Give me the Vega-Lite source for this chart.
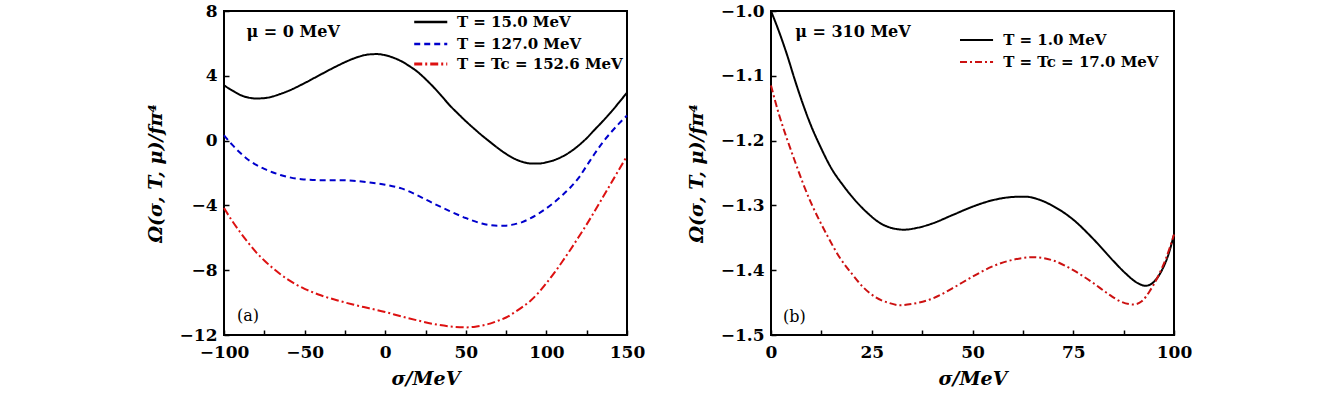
{
  "$schema": "https://vega.github.io/schema/vega-lite/v6.json",
  "background": "white",
  "padding": {"left": 145, "top": 1, "right": 5, "bottom": 5},
  "bounds": "flush",
  "spacing": 144,
  "resolve": {"scale": {"color": "independent", "strokeDash": "independent", "x": "independent", "y": "independent"}},
  "config": {
    "view": {"stroke": "black", "strokeWidth": 2},
    "axis": {
      "domain": false, "grid": false, "tickColor": "black", "tickWidth": 1.5, "tickSize": -5,
      "labelFlush": false, "labelOverlap": false,
      "labelFont": "DejaVu Serif", "labelFontWeight": "bold", "labelFontSize": 17, "labelColor": "black",
      "titleFont": "DejaVu Serif", "titleFontWeight": "bold", "titleFontStyle": "italic", "titleFontSize": 19, "titleColor": "black",
      "zindex": 1
    },
    "axisX": {"labelPadding": 14, "titlePadding": 9},
    "axisY": {"labelPadding": 12, "titlePadding": 14},
    "line": {"interpolate": "monotone"},
    "text": {"font": "DejaVu Serif", "fontWeight": "bold", "fontSize": 15, "color": "black", "align": "left", "baseline": "middle"}
  },
  "datasets": {
    "a": [
      {"s": -100, "v": 3.41, "T": "T = 15.0 MeV"}, {"s": -95, "v": 3.10, "T": "T = 15.0 MeV"}, {"s": -90, "v": 2.82, "T": "T = 15.0 MeV"}, {"s": -85, "v": 2.66, "T": "T = 15.0 MeV"}, {"s": -80, "v": 2.60, "T": "T = 15.0 MeV"}, {"s": -75, "v": 2.62, "T": "T = 15.0 MeV"}, {"s": -70, "v": 2.72, "T": "T = 15.0 MeV"}, {"s": -65, "v": 2.88, "T": "T = 15.0 MeV"}, {"s": -60, "v": 3.07, "T": "T = 15.0 MeV"}, {"s": -50, "v": 3.55, "T": "T = 15.0 MeV"}, {"s": -40, "v": 4.08, "T": "T = 15.0 MeV"}, {"s": -30, "v": 4.60, "T": "T = 15.0 MeV"}, {"s": -20, "v": 5.05, "T": "T = 15.0 MeV"}, {"s": -15, "v": 5.22, "T": "T = 15.0 MeV"}, {"s": -10, "v": 5.32, "T": "T = 15.0 MeV"}, {"s": -5, "v": 5.34, "T": "T = 15.0 MeV"}, {"s": 0, "v": 5.27, "T": "T = 15.0 MeV"}, {"s": 5, "v": 5.12, "T": "T = 15.0 MeV"}, {"s": 10, "v": 4.90, "T": "T = 15.0 MeV"}, {"s": 15, "v": 4.60, "T": "T = 15.0 MeV"}, {"s": 20, "v": 4.25, "T": "T = 15.0 MeV"}, {"s": 25, "v": 3.80, "T": "T = 15.0 MeV"}, {"s": 30, "v": 3.30, "T": "T = 15.0 MeV"}, {"s": 35, "v": 2.75, "T": "T = 15.0 MeV"}, {"s": 40, "v": 2.18, "T": "T = 15.0 MeV"}, {"s": 45, "v": 1.68, "T": "T = 15.0 MeV"}, {"s": 50, "v": 1.20, "T": "T = 15.0 MeV"}, {"s": 55, "v": 0.75, "T": "T = 15.0 MeV"}, {"s": 60, "v": 0.32, "T": "T = 15.0 MeV"}, {"s": 65, "v": -0.08, "T": "T = 15.0 MeV"}, {"s": 70, "v": -0.47, "T": "T = 15.0 MeV"}, {"s": 75, "v": -0.82, "T": "T = 15.0 MeV"}, {"s": 80, "v": -1.11, "T": "T = 15.0 MeV"}, {"s": 85, "v": -1.31, "T": "T = 15.0 MeV"}, {"s": 90, "v": -1.41, "T": "T = 15.0 MeV"}, {"s": 95, "v": -1.42, "T": "T = 15.0 MeV"}, {"s": 100, "v": -1.34, "T": "T = 15.0 MeV"}, {"s": 105, "v": -1.20, "T": "T = 15.0 MeV"}, {"s": 110, "v": -0.98, "T": "T = 15.0 MeV"}, {"s": 115, "v": -0.68, "T": "T = 15.0 MeV"}, {"s": 120, "v": -0.30, "T": "T = 15.0 MeV"}, {"s": 125, "v": 0.15, "T": "T = 15.0 MeV"}, {"s": 130, "v": 0.68, "T": "T = 15.0 MeV"}, {"s": 135, "v": 1.20, "T": "T = 15.0 MeV"}, {"s": 140, "v": 1.75, "T": "T = 15.0 MeV"}, {"s": 145, "v": 2.35, "T": "T = 15.0 MeV"}, {"s": 150, "v": 2.96, "T": "T = 15.0 MeV"},
      {"s": -100, "v": 0.33, "T": "T = 127.0 MeV"}, {"s": -95, "v": -0.25, "T": "T = 127.0 MeV"}, {"s": -90, "v": -0.75, "T": "T = 127.0 MeV"}, {"s": -85, "v": -1.18, "T": "T = 127.0 MeV"}, {"s": -80, "v": -1.50, "T": "T = 127.0 MeV"}, {"s": -75, "v": -1.75, "T": "T = 127.0 MeV"}, {"s": -70, "v": -1.95, "T": "T = 127.0 MeV"}, {"s": -65, "v": -2.12, "T": "T = 127.0 MeV"}, {"s": -60, "v": -2.25, "T": "T = 127.0 MeV"}, {"s": -55, "v": -2.35, "T": "T = 127.0 MeV"}, {"s": -50, "v": -2.40, "T": "T = 127.0 MeV"}, {"s": -40, "v": -2.44, "T": "T = 127.0 MeV"}, {"s": -30, "v": -2.44, "T": "T = 127.0 MeV"}, {"s": -20, "v": -2.48, "T": "T = 127.0 MeV"}, {"s": -10, "v": -2.58, "T": "T = 127.0 MeV"}, {"s": 0, "v": -2.72, "T": "T = 127.0 MeV"}, {"s": 10, "v": -2.95, "T": "T = 127.0 MeV"}, {"s": 20, "v": -3.38, "T": "T = 127.0 MeV"}, {"s": 30, "v": -3.88, "T": "T = 127.0 MeV"}, {"s": 40, "v": -4.35, "T": "T = 127.0 MeV"}, {"s": 50, "v": -4.78, "T": "T = 127.0 MeV"}, {"s": 60, "v": -5.12, "T": "T = 127.0 MeV"}, {"s": 65, "v": -5.22, "T": "T = 127.0 MeV"}, {"s": 70, "v": -5.26, "T": "T = 127.0 MeV"}, {"s": 75, "v": -5.25, "T": "T = 127.0 MeV"}, {"s": 80, "v": -5.17, "T": "T = 127.0 MeV"}, {"s": 85, "v": -5.03, "T": "T = 127.0 MeV"}, {"s": 90, "v": -4.80, "T": "T = 127.0 MeV"}, {"s": 95, "v": -4.52, "T": "T = 127.0 MeV"}, {"s": 100, "v": -4.18, "T": "T = 127.0 MeV"}, {"s": 105, "v": -3.80, "T": "T = 127.0 MeV"}, {"s": 110, "v": -3.36, "T": "T = 127.0 MeV"}, {"s": 115, "v": -2.88, "T": "T = 127.0 MeV"}, {"s": 120, "v": -2.30, "T": "T = 127.0 MeV"}, {"s": 125, "v": -1.55, "T": "T = 127.0 MeV"}, {"s": 130, "v": -0.80, "T": "T = 127.0 MeV"}, {"s": 135, "v": -0.10, "T": "T = 127.0 MeV"}, {"s": 140, "v": 0.50, "T": "T = 127.0 MeV"}, {"s": 145, "v": 1.05, "T": "T = 127.0 MeV"}, {"s": 150, "v": 1.55, "T": "T = 127.0 MeV"},
      {"s": -100, "v": -4.16, "T": "T = Tc = 152.6 MeV"}, {"s": -95, "v": -4.95, "T": "T = Tc = 152.6 MeV"}, {"s": -90, "v": -5.65, "T": "T = Tc = 152.6 MeV"}, {"s": -85, "v": -6.30, "T": "T = Tc = 152.6 MeV"}, {"s": -80, "v": -6.90, "T": "T = Tc = 152.6 MeV"}, {"s": -75, "v": -7.40, "T": "T = Tc = 152.6 MeV"}, {"s": -70, "v": -7.85, "T": "T = Tc = 152.6 MeV"}, {"s": -65, "v": -8.25, "T": "T = Tc = 152.6 MeV"}, {"s": -60, "v": -8.60, "T": "T = Tc = 152.6 MeV"}, {"s": -55, "v": -8.90, "T": "T = Tc = 152.6 MeV"}, {"s": -50, "v": -9.15, "T": "T = Tc = 152.6 MeV"}, {"s": -45, "v": -9.36, "T": "T = Tc = 152.6 MeV"}, {"s": -40, "v": -9.55, "T": "T = Tc = 152.6 MeV"}, {"s": -30, "v": -9.85, "T": "T = Tc = 152.6 MeV"}, {"s": -20, "v": -10.12, "T": "T = Tc = 152.6 MeV"}, {"s": -10, "v": -10.35, "T": "T = Tc = 152.6 MeV"}, {"s": 0, "v": -10.58, "T": "T = Tc = 152.6 MeV"}, {"s": 10, "v": -10.85, "T": "T = Tc = 152.6 MeV"}, {"s": 20, "v": -11.10, "T": "T = Tc = 152.6 MeV"}, {"s": 30, "v": -11.32, "T": "T = Tc = 152.6 MeV"}, {"s": 40, "v": -11.47, "T": "T = Tc = 152.6 MeV"}, {"s": 50, "v": -11.53, "T": "T = Tc = 152.6 MeV"}, {"s": 55, "v": -11.50, "T": "T = Tc = 152.6 MeV"}, {"s": 60, "v": -11.42, "T": "T = Tc = 152.6 MeV"}, {"s": 65, "v": -11.30, "T": "T = Tc = 152.6 MeV"}, {"s": 70, "v": -11.12, "T": "T = Tc = 152.6 MeV"}, {"s": 75, "v": -10.92, "T": "T = Tc = 152.6 MeV"}, {"s": 80, "v": -10.62, "T": "T = Tc = 152.6 MeV"}, {"s": 85, "v": -10.28, "T": "T = Tc = 152.6 MeV"}, {"s": 90, "v": -9.90, "T": "T = Tc = 152.6 MeV"}, {"s": 95, "v": -9.40, "T": "T = Tc = 152.6 MeV"}, {"s": 100, "v": -8.80, "T": "T = Tc = 152.6 MeV"}, {"s": 105, "v": -8.15, "T": "T = Tc = 152.6 MeV"}, {"s": 110, "v": -7.45, "T": "T = Tc = 152.6 MeV"}, {"s": 115, "v": -6.72, "T": "T = Tc = 152.6 MeV"}, {"s": 120, "v": -5.95, "T": "T = Tc = 152.6 MeV"}, {"s": 125, "v": -5.17, "T": "T = Tc = 152.6 MeV"}, {"s": 130, "v": -4.35, "T": "T = Tc = 152.6 MeV"}, {"s": 135, "v": -3.50, "T": "T = Tc = 152.6 MeV"}, {"s": 140, "v": -2.65, "T": "T = Tc = 152.6 MeV"}, {"s": 145, "v": -1.80, "T": "T = Tc = 152.6 MeV"}, {"s": 150, "v": -0.95, "T": "T = Tc = 152.6 MeV"}
    ],
    "b": [
      {"s": 0, "v": -1.000, "T": "T = 1.0 MeV"}, {"s": 2, "v": -1.032, "T": "T = 1.0 MeV"}, {"s": 4, "v": -1.068, "T": "T = 1.0 MeV"}, {"s": 6, "v": -1.108, "T": "T = 1.0 MeV"}, {"s": 8, "v": -1.145, "T": "T = 1.0 MeV"}, {"s": 10, "v": -1.178, "T": "T = 1.0 MeV"}, {"s": 12, "v": -1.206, "T": "T = 1.0 MeV"}, {"s": 15, "v": -1.243, "T": "T = 1.0 MeV"}, {"s": 18, "v": -1.270, "T": "T = 1.0 MeV"}, {"s": 21, "v": -1.293, "T": "T = 1.0 MeV"}, {"s": 24, "v": -1.312, "T": "T = 1.0 MeV"}, {"s": 27, "v": -1.327, "T": "T = 1.0 MeV"}, {"s": 30, "v": -1.335, "T": "T = 1.0 MeV"}, {"s": 33, "v": -1.3375, "T": "T = 1.0 MeV"}, {"s": 36, "v": -1.335, "T": "T = 1.0 MeV"}, {"s": 40, "v": -1.328, "T": "T = 1.0 MeV"}, {"s": 45, "v": -1.315, "T": "T = 1.0 MeV"}, {"s": 50, "v": -1.302, "T": "T = 1.0 MeV"}, {"s": 55, "v": -1.292, "T": "T = 1.0 MeV"}, {"s": 60, "v": -1.287, "T": "T = 1.0 MeV"}, {"s": 63, "v": -1.2865, "T": "T = 1.0 MeV"}, {"s": 66, "v": -1.290, "T": "T = 1.0 MeV"}, {"s": 70, "v": -1.301, "T": "T = 1.0 MeV"}, {"s": 75, "v": -1.322, "T": "T = 1.0 MeV"}, {"s": 80, "v": -1.352, "T": "T = 1.0 MeV"}, {"s": 85, "v": -1.386, "T": "T = 1.0 MeV"}, {"s": 88, "v": -1.405, "T": "T = 1.0 MeV"}, {"s": 91, "v": -1.420, "T": "T = 1.0 MeV"}, {"s": 93, "v": -1.424, "T": "T = 1.0 MeV"}, {"s": 95, "v": -1.418, "T": "T = 1.0 MeV"}, {"s": 97, "v": -1.400, "T": "T = 1.0 MeV"}, {"s": 98.5, "v": -1.378, "T": "T = 1.0 MeV"}, {"s": 100, "v": -1.345, "T": "T = 1.0 MeV"},
      {"s": 0, "v": -1.115, "T": "T = Tc = 17.0 MeV"}, {"s": 2, "v": -1.160, "T": "T = Tc = 17.0 MeV"}, {"s": 4, "v": -1.198, "T": "T = Tc = 17.0 MeV"}, {"s": 6, "v": -1.233, "T": "T = Tc = 17.0 MeV"}, {"s": 8, "v": -1.267, "T": "T = Tc = 17.0 MeV"}, {"s": 10, "v": -1.297, "T": "T = Tc = 17.0 MeV"}, {"s": 12, "v": -1.323, "T": "T = Tc = 17.0 MeV"}, {"s": 14, "v": -1.347, "T": "T = Tc = 17.0 MeV"}, {"s": 17, "v": -1.380, "T": "T = Tc = 17.0 MeV"}, {"s": 20, "v": -1.405, "T": "T = Tc = 17.0 MeV"}, {"s": 23, "v": -1.427, "T": "T = Tc = 17.0 MeV"}, {"s": 26, "v": -1.442, "T": "T = Tc = 17.0 MeV"}, {"s": 29, "v": -1.450, "T": "T = Tc = 17.0 MeV"}, {"s": 32, "v": -1.454, "T": "T = Tc = 17.0 MeV"}, {"s": 35, "v": -1.452, "T": "T = Tc = 17.0 MeV"}, {"s": 40, "v": -1.444, "T": "T = Tc = 17.0 MeV"}, {"s": 45, "v": -1.428, "T": "T = Tc = 17.0 MeV"}, {"s": 50, "v": -1.410, "T": "T = Tc = 17.0 MeV"}, {"s": 55, "v": -1.394, "T": "T = Tc = 17.0 MeV"}, {"s": 60, "v": -1.384, "T": "T = Tc = 17.0 MeV"}, {"s": 65, "v": -1.380, "T": "T = Tc = 17.0 MeV"}, {"s": 70, "v": -1.385, "T": "T = Tc = 17.0 MeV"}, {"s": 75, "v": -1.400, "T": "T = Tc = 17.0 MeV"}, {"s": 80, "v": -1.420, "T": "T = Tc = 17.0 MeV"}, {"s": 84, "v": -1.438, "T": "T = Tc = 17.0 MeV"}, {"s": 87, "v": -1.449, "T": "T = Tc = 17.0 MeV"}, {"s": 90, "v": -1.453, "T": "T = Tc = 17.0 MeV"}, {"s": 92, "v": -1.448, "T": "T = Tc = 17.0 MeV"}, {"s": 94, "v": -1.432, "T": "T = Tc = 17.0 MeV"}, {"s": 96, "v": -1.410, "T": "T = Tc = 17.0 MeV"}, {"s": 98, "v": -1.382, "T": "T = Tc = 17.0 MeV"}, {"s": 100, "v": -1.345, "T": "T = Tc = 17.0 MeV"}
    ]
  },
  "hconcat": [
    {
      "width": 403, "height": 324,
      "layer": [
        {
          "data": {"name": "a"},
          "mark": {"type": "line", "strokeWidth": 2},
          "encoding": {
            "x": {"field": "s", "type": "quantitative", "scale": {"domain": [-100, 150], "nice": false, "zero": false},
                  "axis": {"title": "σ/MeV", "values": [-100, -75, -50, -25, 0, 25, 50, 75, 100, 125, 150], "labelExpr": "datum.value % 50 === 0 ? datum.label : ''"}},
            "y": {"field": "v", "type": "quantitative", "scale": {"domain": [-12, 8], "nice": false, "zero": false},
                  "axis": {"title": "Ω(σ, T, μ)/fπ⁴", "values": [-12, -11, -10, -9, -8, -7, -6, -5, -4, -3, -2, -1, 0, 1, 2, 3, 4, 5, 6, 7, 8], "labelExpr": "datum.value % 4 === 0 ? datum.label : ''"}},
            "color": {"field": "T", "type": "nominal", "legend": null,
                      "scale": {"domain": ["T = 15.0 MeV", "T = 127.0 MeV", "T = Tc = 152.6 MeV"], "range": ["#000000", "#0000cc", "#dd1111"]}},
            "strokeDash": {"field": "T", "type": "nominal", "legend": null,
                           "scale": {"domain": ["T = 15.0 MeV", "T = 127.0 MeV", "T = Tc = 152.6 MeV"], "range": [[1, 0], [6, 4], [8, 3, 2, 3]]}}
          }
        },
        {"data": {"values": [{}]}, "mark": {"type": "rule", "stroke": "#000000", "strokeWidth": 2.5}, "encoding": {"x": {"datum": 18}, "x2": {"datum": 38.5}, "y": {"datum": 7.32}}},
        {"data": {"values": [{}]}, "mark": {"type": "rule", "stroke": "#0000cc", "strokeWidth": 2.5, "strokeDash": [6, 4]}, "encoding": {"x": {"datum": 18}, "x2": {"datum": 38.5}, "y": {"datum": 5.96}}},
        {"data": {"values": [{}]}, "mark": {"type": "rule", "stroke": "#dd1111", "strokeWidth": 3, "strokeDash": [8, 3, 2, 3]}, "encoding": {"x": {"datum": 18}, "x2": {"datum": 38.5}, "y": {"datum": 4.73}}},
        {"data": {"values": [{}]}, "mark": {"type": "text"}, "encoding": {"x": {"datum": 44.5}, "y": {"datum": 7.32}, "text": {"value": "T = 15.0 MeV"}}},
        {"data": {"values": [{}]}, "mark": {"type": "text"}, "encoding": {"x": {"datum": 44.5}, "y": {"datum": 5.96}, "text": {"value": "T = 127.0 MeV"}}},
        {"data": {"values": [{}]}, "mark": {"type": "text"}, "encoding": {"x": {"datum": 44.5}, "y": {"datum": 4.73}, "text": {"value": "T = Tc = 152.6 MeV"}}},
        {"data": {"values": [{}]}, "mark": {"type": "text", "fontSize": 16}, "encoding": {"x": {"datum": -86}, "y": {"datum": 6.7}, "text": {"value": "μ = 0 MeV"}}},
        {"data": {"values": [{}]}, "mark": {"type": "text", "fontWeight": "normal", "fontSize": 16}, "encoding": {"x": {"datum": -92}, "y": {"datum": -10.8}, "text": {"value": "(a)"}}}
      ]
    },
    {
      "width": 403, "height": 324,
      "layer": [
        {
          "data": {"name": "b"},
          "mark": {"type": "line", "strokeWidth": 2},
          "encoding": {
            "x": {"field": "s", "type": "quantitative", "scale": {"domain": [0, 100], "nice": false, "zero": false},
                  "axis": {"title": "σ/MeV", "values": [0, 12.5, 25, 37.5, 50, 62.5, 75, 87.5, 100], "labelExpr": "datum.value % 25 === 0 ? datum.label : ''"}},
            "y": {"field": "v", "type": "quantitative", "scale": {"domain": [-1.5, -1.0], "nice": false, "zero": false},
                  "axis": {"title": "Ω(σ, T, μ)/fπ⁴", "values": [-1.5, -1.45, -1.4, -1.35, -1.3, -1.25, -1.2, -1.15, -1.1, -1.05, -1.0], "labelExpr": "abs(round(datum.value * 100)) % 10 === 0 ? format(datum.value, '.1f') : ''"}},
            "color": {"field": "T", "type": "nominal", "legend": null,
                      "scale": {"domain": ["T = 1.0 MeV", "T = Tc = 17.0 MeV"], "range": ["#000000", "#cc1111"]}},
            "strokeDash": {"field": "T", "type": "nominal", "legend": null,
                           "scale": {"domain": ["T = 1.0 MeV", "T = Tc = 17.0 MeV"], "range": [[1, 0], [7, 3, 2, 3]]}}
          }
        },
        {"data": {"values": [{}]}, "mark": {"type": "rule", "stroke": "#000000", "strokeWidth": 2}, "encoding": {"x": {"datum": 46.9}, "x2": {"datum": 55.1}, "y": {"datum": -1.0448}}},
        {"data": {"values": [{}]}, "mark": {"type": "rule", "stroke": "#cc1111", "strokeWidth": 2, "strokeDash": [7, 3, 2, 3]}, "encoding": {"x": {"datum": 46.9}, "x2": {"datum": 55.1}, "y": {"datum": -1.0787}}},
        {"data": {"values": [{}]}, "mark": {"type": "text"}, "encoding": {"x": {"datum": 57.6}, "y": {"datum": -1.0448}, "text": {"value": "T = 1.0 MeV"}}},
        {"data": {"values": [{}]}, "mark": {"type": "text"}, "encoding": {"x": {"datum": 57.6}, "y": {"datum": -1.0787}, "text": {"value": "T = Tc = 17.0 MeV"}}},
        {"data": {"values": [{}]}, "mark": {"type": "text", "fontSize": 16}, "encoding": {"x": {"datum": 6}, "y": {"datum": -1.032}, "text": {"value": "μ = 310 MeV"}}},
        {"data": {"values": [{}]}, "mark": {"type": "text", "fontWeight": "normal", "fontSize": 16}, "encoding": {"x": {"datum": 3}, "y": {"datum": -1.472}, "text": {"value": "(b)"}}}
      ]
    }
  ]
}
